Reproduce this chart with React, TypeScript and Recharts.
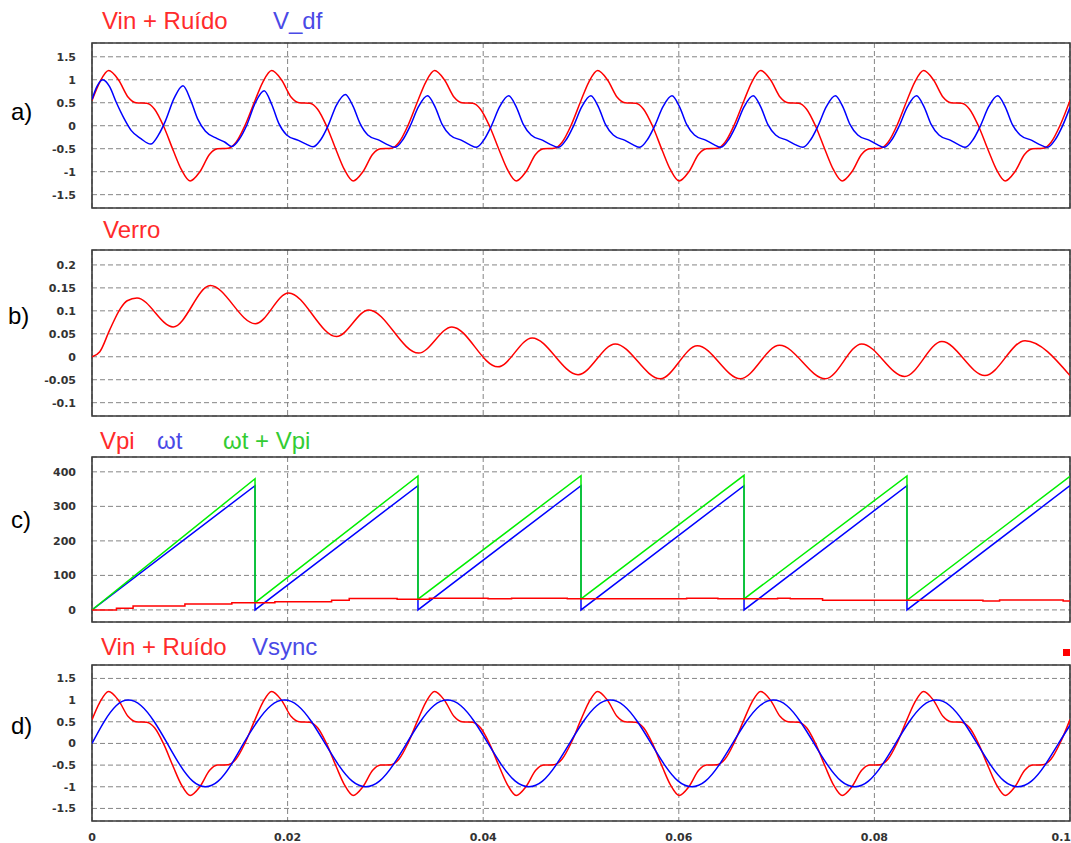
import React from 'react';
import { LineChart, Line, XAxis, YAxis, CartesianGrid, ReferenceArea } from 'recharts';

// time axis (s)
const xTicks = [0, 0.02, 0.04, 0.06, 0.08, 0.1];

// Vin + Ruído (panels a and d)
const vinTime = [
  0, 0.0008, 0.0017, 0.0027, 0.0037, 0.0045, 0.0056, 0.0064, 0.0073,
  0.00833, 0.00913, 0.01003, 0.01103, 0.01203, 0.01283, 0.01393, 0.01473, 0.01563,
  0.01667, 0.01747, 0.01837, 0.01937, 0.02037, 0.02117, 0.02227, 0.02307, 0.02397,
  0.025, 0.0258, 0.0267, 0.0277, 0.0287, 0.0295, 0.0306, 0.0314, 0.0323,
  0.03333, 0.03413, 0.03503, 0.03603, 0.03703, 0.03783, 0.03893, 0.03973, 0.04063,
  0.04167, 0.04247, 0.04337, 0.04437, 0.04537, 0.04617, 0.04727, 0.04807, 0.04897,
  0.05, 0.0508, 0.0517, 0.0527, 0.0537, 0.0545, 0.0556, 0.0564, 0.0573,
  0.05833, 0.05913, 0.06003, 0.06103, 0.06203, 0.06283, 0.06393, 0.06473, 0.06563,
  0.06667, 0.06747, 0.06837, 0.06937, 0.07037, 0.07117, 0.07227, 0.07307, 0.07397,
  0.075, 0.0758, 0.0767, 0.0777, 0.0787, 0.0795, 0.0806, 0.0814, 0.0823,
  0.08333, 0.08413, 0.08503, 0.08603, 0.08703, 0.08783, 0.08893, 0.08973, 0.09063,
  0.09167, 0.09247, 0.09337, 0.09437, 0.09537, 0.09617, 0.09727, 0.09807, 0.09897,
  0.1,
];
const vinValue = [
  0.55, 0.95, 1.2, 1.0, 0.62, 0.5, 0.49, 0.36, 0,
  -0.55, -0.95, -1.2, -1.0, -0.62, -0.5, -0.49, -0.36, 0,
  0.55, 0.95, 1.2, 1.0, 0.62, 0.5, 0.49, 0.36, 0,
  -0.55, -0.95, -1.2, -1.0, -0.62, -0.5, -0.49, -0.36, 0,
  0.55, 0.95, 1.2, 1.0, 0.62, 0.5, 0.49, 0.36, 0,
  -0.55, -0.95, -1.2, -1.0, -0.62, -0.5, -0.49, -0.36, 0,
  0.55, 0.95, 1.2, 1.0, 0.62, 0.5, 0.49, 0.36, 0,
  -0.55, -0.95, -1.2, -1.0, -0.62, -0.5, -0.49, -0.36, 0,
  0.55, 0.95, 1.2, 1.0, 0.62, 0.5, 0.49, 0.36, 0,
  -0.55, -0.95, -1.2, -1.0, -0.62, -0.5, -0.49, -0.36, 0,
  0.55, 0.95, 1.2, 1.0, 0.62, 0.5, 0.49, 0.36, 0,
  -0.55, -0.95, -1.2, -1.0, -0.62, -0.5, -0.49, -0.36, 0,
  0.55,
];

// V_df (panel a)
const vdfTime = [
  0, 0.0005, 0.0011, 0.0018, 0.0025, 0.0033, 0.004, 0.005, 0.006,
  0.0068, 0.0075, 0.0084, 0.0093, 0.0101, 0.0108, 0.0116, 0.0128, 0.0136, 0.0143,
  0.0151, 0.0158, 0.0167, 0.0176, 0.0184, 0.0191, 0.0199, 0.0211, 0.0219, 0.0226,
  0.0234, 0.0241, 0.025, 0.0259, 0.0267, 0.0274, 0.0282, 0.0294, 0.0302, 0.031,
  0.0318, 0.0325, 0.0334, 0.0343, 0.0351, 0.0358, 0.0366, 0.0378, 0.0386, 0.0393,
  0.0401, 0.0408, 0.0417, 0.0426, 0.0434, 0.0441, 0.0449, 0.0461, 0.0469, 0.0477,
  0.0485, 0.0492, 0.0501, 0.051, 0.0518, 0.0525, 0.0533, 0.0545, 0.0553, 0.056,
  0.0568, 0.0575, 0.0584, 0.0593, 0.0601, 0.0608, 0.0616, 0.0628, 0.0636, 0.0643,
  0.0651, 0.0658, 0.0667, 0.0676, 0.0684, 0.0691, 0.0699, 0.0711, 0.0719, 0.0727,
  0.0735, 0.0742, 0.0751, 0.076, 0.0768, 0.0775, 0.0783, 0.0795, 0.0803, 0.081,
  0.0818, 0.0825, 0.0834, 0.0843, 0.0851, 0.0858, 0.0866, 0.0878, 0.0886, 0.0893,
  0.0901, 0.0908, 0.0917, 0.0926, 0.0934, 0.0941, 0.0949, 0.0961, 0.0969, 0.0977,
  0.0985, 0.0992, 0.1,
];
const vdfValue = [
  0.57, 0.85, 1.0, 0.85, 0.5, 0.15, -0.1, -0.28, -0.4,
  -0.2, 0.1, 0.6, 0.87, 0.55, 0.15, -0.12, -0.28, -0.36, -0.45,
  -0.28, 0.0, 0.5, 0.76, 0.45, 0.05, -0.2, -0.32, -0.4, -0.46,
  -0.3, -0.02, 0.45, 0.68, 0.42, 0.05, -0.2, -0.32, -0.41, -0.47,
  -0.3, -0.02, 0.42, 0.65, 0.4, 0.03, -0.2, -0.32, -0.41, -0.47,
  -0.3, -0.02, 0.42, 0.65, 0.4, 0.03, -0.2, -0.32, -0.41, -0.47,
  -0.3, -0.02, 0.42, 0.65, 0.4, 0.03, -0.2, -0.32, -0.41, -0.47,
  -0.3, -0.02, 0.42, 0.65, 0.4, 0.03, -0.2, -0.32, -0.41, -0.47,
  -0.3, -0.02, 0.42, 0.65, 0.4, 0.03, -0.2, -0.32, -0.41, -0.47,
  -0.3, -0.02, 0.42, 0.65, 0.4, 0.03, -0.2, -0.32, -0.41, -0.47,
  -0.3, -0.02, 0.42, 0.65, 0.4, 0.03, -0.2, -0.32, -0.41, -0.47,
  -0.3, -0.02, 0.42, 0.65, 0.4, 0.03, -0.2, -0.32, -0.41, -0.47,
  -0.3, -0.02, 0.4,
];

// Verro (panel b)
const verroTime = [
  0, 0.0008, 0.0018, 0.0029, 0.0036, 0.0046, 0.0083, 0.0121, 0.0167, 0.0201, 0.025, 0.0283,
  0.0334, 0.0368, 0.0415, 0.045, 0.0497, 0.0535, 0.0581, 0.0619, 0.0663, 0.0703,
  0.075, 0.0787, 0.0831, 0.0869, 0.0913, 0.0954, 0.1,
];
const verroValue = [
  0, 0.011, 0.058, 0.105, 0.122, 0.128, 0.065, 0.155, 0.072, 0.139, 0.044, 0.102,
  0.008, 0.065, -0.022, 0.041, -0.039, 0.028, -0.048, 0.024, -0.048, 0.025,
  -0.048, 0.028, -0.043, 0.033, -0.041, 0.035, -0.041,
];

// Vpi, ωt, ωt + Vpi (panel c)
const vpiTime = [
  0, 0.0025, 0.0042, 0.0095, 0.0143, 0.0187, 0.0245, 0.0263, 0.0312, 0.0345,
  0.0405, 0.0429, 0.0486, 0.0608, 0.064, 0.0701, 0.0714, 0.0747, 0.0911, 0.0928,
  0.0993, 0.1,
];
const vpiValue = [
  0, 5, 11, 17, 21, 24, 28, 33, 31, 34,
  32, 34, 32, 34, 32, 34, 32, 28, 26, 29,
  26, 26,
];
const wtTime = [0, 0.01667, 0.01667, 0.03333, 0.03333, 0.05, 0.05, 0.06667, 0.06667, 0.08333, 0.08333, 0.1];
const wtValue = [0, 360, 0, 360, 0, 360, 0, 360, 0, 360, 0, 360];
const wtVpiValue = [0, 380, 21, 388, 31, 389, 32, 390, 32, 388, 28, 387];

// Vsync (panel d)
const vsyncTime = [
  0, 0.00123, 0.00247, 0.0037, 0.00503, 0.00637, 0.0077, 0.009, 0.0103, 0.0116, 0.0129, 0.0142, 0.0155,
  0.01689, 0.01828, 0.01967, 0.02106, 0.02245, 0.02383, 0.02522, 0.02661, 0.028, 0.02939, 0.03078, 0.03217,
  0.03356, 0.03494, 0.03633, 0.03772, 0.03911, 0.0405, 0.04189, 0.04328, 0.04467, 0.04606, 0.04744, 0.04883,
  0.05022, 0.05161, 0.053, 0.05439, 0.05578, 0.05717, 0.05856, 0.05994, 0.06133, 0.06272, 0.06411, 0.0655,
  0.06689, 0.06828, 0.06967, 0.07106, 0.07244, 0.07383, 0.07522, 0.07661, 0.078, 0.07939, 0.08078, 0.08217,
  0.08356, 0.08494, 0.08633, 0.08772, 0.08911, 0.0905, 0.09189, 0.09328, 0.09467, 0.09606, 0.09744, 0.09883,
  0.1,
];
const vsyncValue = [
  0, 0.5, 0.87, 1, 0.87, 0.5, 0, -0.5, -0.87, -1, -0.87, -0.5, 0,
  0.5, 0.87, 1, 0.87, 0.5, 0, -0.5, -0.87, -1, -0.87, -0.5, 0,
  0.5, 0.87, 1, 0.87, 0.5, 0, -0.5, -0.87, -1, -0.87, -0.5, 0,
  0.5, 0.87, 1, 0.87, 0.5, 0, -0.5, -0.87, -1, -0.87, -0.5, 0,
  0.5, 0.87, 1, 0.87, 0.5, 0, -0.5, -0.87, -1, -0.87, -0.5, 0,
  0.5, 0.87, 1, 0.87, 0.5, 0, -0.5, -0.87, -1, -0.87, -0.5, 0,
  0.42,
];

const voltTicks = [-1.5, -1, -0.5, 0, 0.5, 1, 1.5];
const erroTicks = [-0.1, -0.05, 0, 0.05, 0.1, 0.15, 0.2];
const angleTicks = [0, 100, 200, 300, 400];

const RED = '#ff0000';
const BLUE = '#0000ff';
const GREEN = '#00ee00';

const toRows = (time: number[], value: number[]) => time.map((t, i) => ({ t, v: value[i] }));

type Series = {
  name: string;
  time: number[];
  value: number[];
  color: string;
  curve: 'monotone' | 'linear' | 'stepAfter' | 'natural';
};

const tickStyle = { fontFamily: 'DejaVu Sans', fontSize: 11, fontWeight: 'bold' as const, fill: '#333' };

function XTick(props: any) {
  const { x, y, payload } = props;
  const last = payload.value >= 0.1;
  return (
    <text x={last ? x + 1 : x} y={y} dy="0.71em" textAnchor={last ? 'end' : 'middle'} {...tickStyle}>
      {String(payload.value)}
    </text>
  );
}

// keeps the ticks (for the vertical grid) but draws no label
function NoTick() {
  return <g />;
}

function Panel({ top, bottom, domain, ticks, series, showX }: {
  top: number; bottom: number; domain: [number, number]; ticks: number[]; series: Series[]; showX?: boolean;
}) {
  const padTop = 4;
  const axisH = showX ? 26 : 1;
  const height = bottom - top + padTop + axisH;
  return (
    <div style={{ position: 'absolute', left: 0, top: top - padTop }}>
      <LineChart width={1071} height={height} margin={{ top: padTop, right: 1, bottom: 0, left: 0 }}>
        <CartesianGrid stroke="#858585" strokeDasharray="5 3" />
        <XAxis
          type="number"
          dataKey="t"
          domain={[0, 0.1]}
          ticks={xTicks}
          interval={0}
          allowDataOverflow
          height={axisH}
          axisLine={false}
          tickLine={false}
          tickSize={0}
          tickMargin={12}
          tick={showX ? <XTick /> : <NoTick />}
        />
        <YAxis
          type="number"
          domain={domain}
          ticks={ticks}
          interval={0}
          allowDataOverflow
          width={92}
          axisLine={false}
          tickLine={false}
          tickSize={0}
          tickMargin={16}
          tick={tickStyle}
        />
        <ReferenceArea x1={0} x2={0.1} y1={domain[0]} y2={domain[1]} fill="none" stroke="#3a3a3a" strokeWidth={1.6} />
        {series.map((s) => (
          <Line
            key={s.name}
            data={toRows(s.time, s.value)}
            dataKey="v"
            name={s.name}
            type={s.curve}
            stroke={s.color}
            strokeWidth={1.5}
            dot={false}
            activeDot={false}
            isAnimationActive={false}
          />
        ))}
      </LineChart>
    </div>
  );
}

const legendFont: React.CSSProperties = {
  position: 'absolute',
  fontFamily: 'Liberation Sans, Arial, sans-serif',
  fontSize: 24,
  lineHeight: '24px',
  whiteSpace: 'nowrap',
};
const labelFont: React.CSSProperties = {
  position: 'absolute',
  fontFamily: 'Liberation Sans, Arial, sans-serif',
  fontSize: 24,
  lineHeight: '24px',
  color: '#000',
};

export default function App() {
  return (
    <div style={{ position: 'absolute', left: 0, top: 0, width: 1071, height: 843, background: '#fff', overflow: 'hidden' }}>
      {/* a) */}
      <span style={{ ...legendFont, left: 102, top: 9, color: '#ff2b2b' }}>Vin + Ruído</span>
      <span style={{ ...legendFont, left: 273, top: 9, color: '#4a4ae6' }}>V_df</span>
      <span style={{ ...labelFont, left: 11, top: 100 }}>a)</span>
      <Panel
        top={43}
        bottom={208}
        domain={[-1.79, 1.8]}
        ticks={voltTicks}
        series={[
          { name: 'Vin + Ruído', time: vinTime, value: vinValue, color: RED, curve: 'monotone' },
          { name: 'V_df', time: vdfTime, value: vdfValue, color: BLUE, curve: 'monotone' },
        ]}
      />

      {/* b) */}
      <span style={{ ...legendFont, left: 103, top: 218, color: '#ff2b2b' }}>Verro</span>
      <span style={{ ...labelFont, left: 8, top: 304 }}>b)</span>
      <Panel
        top={250}
        bottom={416}
        domain={[-0.129, 0.2325]}
        ticks={erroTicks}
        series={[{ name: 'Verro', time: verroTime, value: verroValue, color: RED, curve: 'monotone' }]}
      />

      {/* c) */}
      <span style={{ ...legendFont, left: 100, top: 429, color: '#ff2b2b' }}>Vpi</span>
      <span style={{ ...legendFont, left: 157, top: 429, color: '#4a4ae6' }}>ωt</span>
      <span style={{ ...legendFont, left: 223, top: 429, color: '#33cc33' }}>ωt + Vpi</span>
      <span style={{ ...labelFont, left: 11, top: 508 }}>c)</span>
      <Panel
        top={457}
        bottom={622}
        domain={[-35, 443]}
        ticks={angleTicks}
        series={[
          { name: 'ωt', time: wtTime, value: wtValue, color: BLUE, curve: 'linear' },
          { name: 'ωt + Vpi', time: wtTime, value: wtVpiValue, color: GREEN, curve: 'linear' },
          { name: 'Vpi', time: vpiTime, value: vpiValue, color: RED, curve: 'stepAfter' },
        ]}
      />

      {/* d) */}
      <span style={{ ...legendFont, left: 101, top: 635, color: '#ff2b2b' }}>Vin + Ruído</span>
      <span style={{ ...legendFont, left: 252, top: 635, color: '#4a4ae6' }}>Vsync</span>
      <span style={{ ...labelFont, left: 11, top: 714 }}>d)</span>
      <div style={{ position: 'absolute', left: 1063, top: 649, width: 7, height: 7, background: RED }} />
      <Panel
        top={665}
        bottom={821}
        domain={[-1.79, 1.81]}
        ticks={voltTicks}
        showX
        series={[
          { name: 'Vin + Ruído', time: vinTime, value: vinValue, color: RED, curve: 'monotone' },
          { name: 'Vsync', time: vsyncTime, value: vsyncValue, color: BLUE, curve: 'natural' },
        ]}
      />
    </div>
  );
}
